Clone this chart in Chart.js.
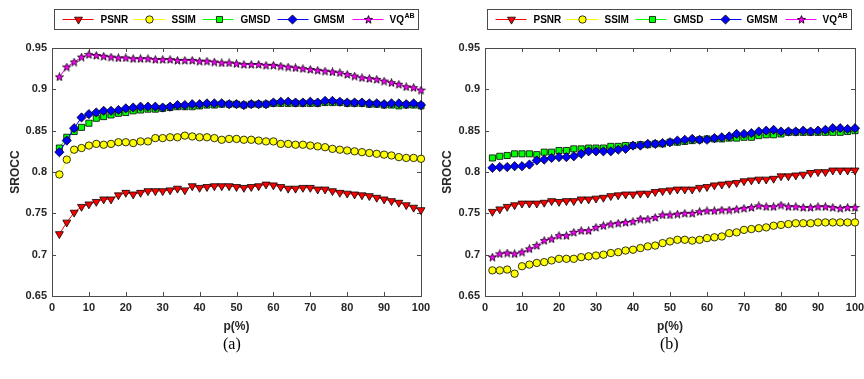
<!DOCTYPE html>
<html><head><meta charset="utf-8">
<script src="https://cdn.jsdelivr.net/npm/chart.js@4.4.1/dist/chart.umd.min.js"></script>
<style>
html,body{margin:0;padding:0;background:#fff;width:864px;height:379px;overflow:hidden;}
.wrap{position:absolute;top:0;width:432px;height:379px;}
.cap{position:absolute;top:335px;font:16px "Liberation Serif",serif;color:#000;}
</style></head><body>
<div class="wrap" style="left:0"><canvas id="c1" width="432" height="379"></canvas></div>
<div class="wrap" style="left:432px"><canvas id="c2" width="432" height="379"></canvas></div>
<div class="cap" style="left:223px">(a)</div>
<div class="cap" style="left:660px">(b)</div>
<script>
const pValues = [2,4,6,8,10,12,14,16,18,20,22,24,26,28,30,32,34,36,38,40,42,44,46,48,50,52,54,56,58,60,62,64,66,68,70,72,74,76,78,80,82,84,86,88,90,92,94,96,98,100];
const seriesNames = ['PSNR','SSIM','GMSD','GMSM','VQAB'];
const xTicks = [0,10,20,30,40,50,60,70,80,90,100];
const yTicks = [0.65,0.7,0.75,0.8,0.85,0.9,0.95];

// (a)
const a_PSNR = [.725,.739,.751,.758,.761,.764,.767,.767,.772,.775,.773,.775,.777,.777,.777,.778,.780,.778,.783,.781,.782,.783,.783,.783,.782,.781,.782,.783,.785,.784,.782,.780,.780,.781,.781,.779,.779,.777,.775,.774,.773,.772,.771,.769,.767,.765,.763,.760,.757,.754];
const a_SSIM = [.797,.815,.827,.829,.832,.834,.833,.834,.836,.836,.835,.837,.837,.841,.841,.842,.842,.844,.843,.842,.842,.841,.839,.840,.840,.839,.839,.838,.837,.837,.834,.834,.833,.833,.832,.831,.830,.828,.827,.826,.825,.824,.823,.822,.821,.820,.818,.817,.817,.816];
const a_GMSD = [.829,.842,.849,.854,.859,.865,.867,.869,.871,.872,.874,.875,.876,.876,.877,.878,.879,.879,.879,.880,.881,.881,.882,.882,.882,.881,.882,.882,.882,.883,.883,.883,.883,.883,.883,.883,.884,.884,.884,.883,.883,.883,.882,.882,.881,.881,.880,.881,.881,.880];
const a_GMSM = [.824,.838,.853,.866,.870,.872,.874,.874,.875,.877,.878,.879,.879,.879,.878,.879,.881,.881,.882,.882,.883,.883,.883,.882,.882,.881,.882,.882,.882,.884,.885,.885,.884,.884,.885,.884,.886,.886,.885,.884,.884,.884,.883,.883,.882,.883,.883,.882,.883,.881];
const a_VQAB = [.915,.927,.933,.939,.942,.941,.940,.939,.938,.938,.937,.937,.937,.936,.936,.936,.935,.935,.935,.934,.934,.933,.932,.932,.931,.930,.930,.930,.929,.929,.928,.927,.926,.925,.924,.923,.922,.921,.920,.918,.916,.914,.913,.912,.910,.908,.906,.903,.902,.899];

// (b)
const b_PSNR = [.752,.755,.758,.760,.762,.762,.762,.763,.765,.764,.765,.765,.767,.767,.768,.769,.771,.772,.773,.773,.774,.774,.776,.777,.778,.779,.779,.779,.781,.782,.784,.785,.786,.787,.789,.790,.791,.791,.792,.795,.795,.796,.797,.799,.800,.800,.802,.802,.802,.802];
const b_SSIM = [.681,.681,.682,.677,.686,.688,.690,.691,.693,.695,.695,.695,.697,.698,.699,.700,.702,.703,.705,.706,.708,.710,.711,.714,.716,.718,.718,.717,.718,.720,.721,.722,.726,.727,.730,.731,.732,.733,.735,.736,.737,.738,.738,.738,.739,.739,.739,.739,.739,.739];
const b_GMSD = [.817,.819,.820,.822,.822,.822,.821,.824,.824,.826,.826,.828,.828,.829,.829,.829,.831,.831,.832,.832,.833,.833,.834,.834,.836,.836,.837,.838,.839,.840,.840,.840,.841,.841,.842,.842,.844,.845,.845,.846,.848,.848,.848,.848,.848,.848,.848,.848,.849,.850];
const b_GMSM = [.805,.806,.806,.807,.807,.809,.814,.815,.817,.818,.818,.819,.822,.825,.825,.825,.825,.827,.828,.832,.832,.834,.834,.835,.836,.838,.839,.840,.839,.839,.841,.842,.843,.846,.846,.847,.849,.850,.851,.849,.849,.849,.850,.849,.850,.851,.853,.853,.852,.853];
const b_VQAB = [.697,.701,.702,.701,.703,.707,.711,.717,.719,.723,.723,.727,.729,.729,.733,.735,.737,.738,.739,.740,.743,.743,.745,.748,.748,.749,.750,.750,.752,.753,.753,.754,.754,.755,.756,.757,.759,.758,.758,.760,.758,.758,.757,.757,.758,.758,.757,.756,.757,.757];

// pentagram marker
function makeStar(){
  const c = document.createElement('canvas');
  c.width = 9; c.height = 9;
  const g = c.getContext('2d');
  const cx = 4.5, cy = 4.8, R = 4.2, r = 1.8;
  g.beginPath();
  for (let i = 0; i < 10; i++){
    const ang = -Math.PI/2 + i*Math.PI/5;
    const rr = i%2===0 ? R : r;
    const px = cx + rr*Math.cos(ang), py = cy + rr*Math.sin(ang);
    if (i===0) g.moveTo(px,py); else g.lineTo(px,py);
  }
  g.closePath();
  g.fillStyle = '#ff00ff'; g.fill();
  g.strokeStyle = '#1a001a'; g.lineWidth = 0.9; g.stroke();
  return c;
}
const starImg = makeStar();

const styles = {
  PSNR: {line:'#ff0000', fill:'#ff0000', pointStyle:'triangle', rotation:180, radius:4.6},
  SSIM: {line:'#ffff00', fill:'#ffff00', pointStyle:'circle', rotation:0, radius:3.7},
  GMSD: {line:'#00ff00', fill:'#00ff00', pointStyle:'rect', rotation:0, radius:4.3},
  GMSM: {line:'#0000ff', fill:'#0000ff', pointStyle:'rectRot', rotation:0, radius:4.6},
  VQAB: {line:'#ff00ff', fill:'#ff00ff', pointStyle:starImg, rotation:0, radius:4.5}
};

const TXT = '#262626';
const AX = '#4a4a4a';

const framePlugin = {
  id:'frame',
  beforeDatasetsDraw(chart){
    const {ctx, chartArea:a, scales:{x,y}} = chart;
    ctx.save();
    ctx.strokeStyle = AX; ctx.lineWidth = 1;
    ctx.strokeRect(Math.round(a.left)+0.5, Math.round(a.top)+0.5, Math.round(a.right-a.left), Math.round(a.bottom-a.top));
    ctx.beginPath();
    const tl = 4;
    xTicks.forEach(v=>{
      const px = Math.round(x.getPixelForValue(v))+0.5;
      ctx.moveTo(px, a.bottom); ctx.lineTo(px, a.bottom-tl);
      ctx.moveTo(px, a.top); ctx.lineTo(px, a.top+tl);
    });
    yTicks.forEach(v=>{
      const py = Math.round(y.getPixelForValue(v))+0.5;
      ctx.moveTo(a.left, py); ctx.lineTo(a.left+tl, py);
      ctx.moveTo(a.right, py); ctx.lineTo(a.right-tl, py);
    });
    ctx.stroke();
    ctx.restore();
  },
  afterDraw(chart){
    const {ctx, chartArea:a} = chart;
    const bl = Math.round(a.left)+2.5, bt = 9.5, bw = 364, bh = 20;
    const cy = bt + bh/2;
    ctx.save();
    ctx.fillStyle = '#fff';
    ctx.fillRect(bl, bt, bw, bh);
    ctx.strokeStyle = AX; ctx.lineWidth = 1;
    ctx.strokeRect(bl, bt, bw, bh);
    const offs = [[8,39,24,46],[79,111,95,117],[148,179,165,186],[223,254,238,259],[298,329,314,335]];
    seriesNames.forEach((n,i)=>{
      const s = styles[n]; const o = offs[i];
      ctx.strokeStyle = s.line; ctx.lineWidth = 1;
      ctx.beginPath(); ctx.moveTo(bl+o[0], cy); ctx.lineTo(bl+o[1], cy); ctx.stroke();
      ctx.fillStyle = s.fill; ctx.strokeStyle = '#000'; ctx.lineWidth = 0.8;
      Chart.helpers.drawPoint(ctx, {pointStyle:s.pointStyle, rotation:s.rotation, radius:s.radius, borderWidth:0.8}, bl+o[2], cy);
      ctx.fillStyle = '#000';
      ctx.font = 'bold 10px "Liberation Sans", Arial, sans-serif';
      ctx.textBaseline = 'middle'; ctx.textAlign = 'left';
      if (n === 'VQAB'){
        ctx.fillText('VQ', bl+o[3], cy+1);
        const w = ctx.measureText('VQ').width;
        ctx.font = 'bold 7px "Liberation Sans", Arial, sans-serif';
        ctx.fillText('AB', bl+o[3]+w+0.5, cy-3);
      } else {
        ctx.fillText(n, bl+o[3], cy+1);
      }
    });
    ctx.restore();
  }
};

function build(id, arrs, yAxisWidth, padRight){
  const datasets = seriesNames.map((n,i)=>{
    const s = styles[n];
    return {
      label:n,
      data: pValues.map((p,k)=>({x:p, y:arrs[i][k]})),
      borderColor:s.line, borderWidth:1,
      backgroundColor:s.fill,
      pointBackgroundColor:s.fill,
      pointBorderColor:'#000', pointBorderWidth:0.8,
      pointStyle:s.pointStyle, pointRotation:s.rotation, pointRadius:s.radius,
      tension:0, clip:false, order:5-i
    };
  });
  new Chart(document.getElementById(id), {
    type:'line',
    data:{datasets},
    options:{
      responsive:false, animation:false, events:[],
      layout:{padding:{left:0, right:padRight, top:48, bottom:39}},
      plugins:{legend:{display:false}, tooltip:{enabled:false}},
      scales:{
        x:{type:'linear', min:0, max:100,
          grid:{display:false, drawTicks:false}, border:{display:false},
          afterBuildTicks:(sc)=>{ sc.ticks = xTicks.map(v=>({value:v})); },
          afterFit:(sc)=>{ sc.height = 44; sc.paddingLeft = 0; sc.paddingRight = 0; },
          ticks:{padding:5, color:TXT, font:{family:'"Liberation Sans", Arial, sans-serif', weight:'bold', size:11}, maxRotation:0, autoSkip:false},
          title:{display:true, text:'p(%)', color:TXT, padding:{top:0,bottom:6}, font:{family:'"Liberation Sans", Arial, sans-serif', weight:'bold', size:12}}
        },
        y:{type:'linear', min:0.65, max:0.95,
          grid:{display:false, drawTicks:false}, border:{display:false},
          afterBuildTicks:(sc)=>{ sc.ticks = yTicks.map(v=>({value:v})); },
          afterFit:(sc)=>{ sc.width = yAxisWidth; sc.paddingTop = 0; sc.paddingBottom = 0; },
          ticks:{padding:5, color:TXT, font:{family:'"Liberation Sans", Arial, sans-serif', weight:'bold', size:11},
            callback:(v)=>String(Number(Number(v).toFixed(2)))},
          title:{display:true, text:'SROCC', color:TXT, padding:{top:8,bottom:0}, font:{family:'"Liberation Sans", Arial, sans-serif', weight:'bold', size:12}}
        }
      }
    },
    plugins:[framePlugin]
  });
}

build('c1', [a_PSNR,a_SSIM,a_GMSD,a_GMSM,a_VQAB], 52, 11);
build('c2', [b_PSNR,b_SSIM,b_GMSD,b_GMSM,b_VQAB], 53, 9);
</script>
</body></html>
